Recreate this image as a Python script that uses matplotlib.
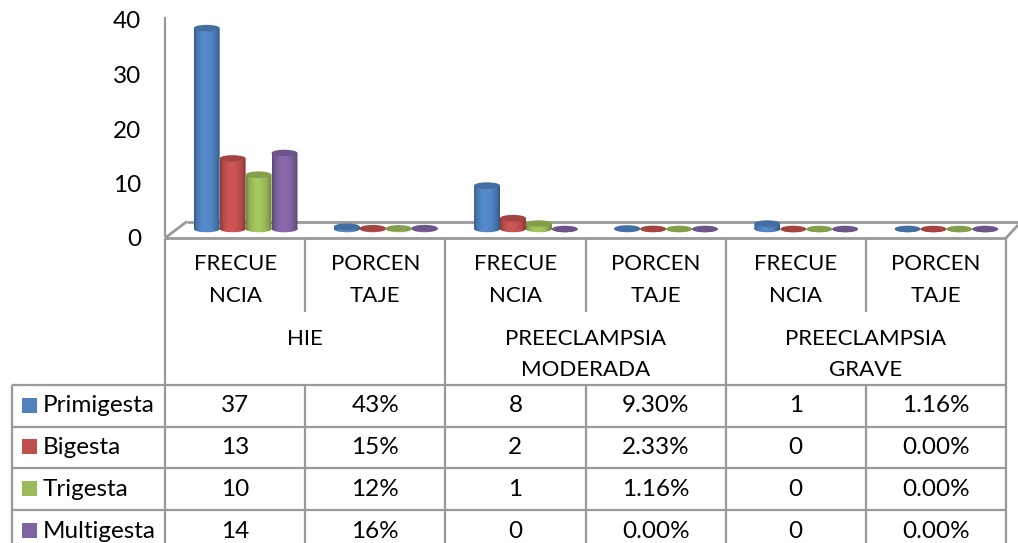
import numpy as np
import matplotlib
matplotlib.use('Agg')
import matplotlib.pyplot as plt
from matplotlib.patches import Ellipse, Rectangle
from matplotlib.path import Path
from matplotlib.colors import to_rgb
from matplotlib.transforms import Affine2D

plt.rcParams['font.family'] = ['Lato', 'DejaVu Sans']

# data
series = ['Primigesta', 'Bigesta', 'Trigesta', 'Multigesta']
primigesta = [37, 0.43, 8, 0.093, 1, 0.0116]
bigesta = [13, 0.15, 2, 0.0233, 0, 0.0]
trigesta = [10, 0.12, 1, 0.0116, 0, 0.0]
multigesta = [14, 0.16, 0, 0.0, 0, 0.0]
values = [primigesta, bigesta, trigesta, multigesta]

primigesta_txt = ['37', '43%', '8', '9.30%', '1', '1.16%']
bigesta_txt = ['13', '15%', '2', '2.33%', '0', '0.00%']
trigesta_txt = ['10', '12%', '1', '1.16%', '0', '0.00%']
multigesta_txt = ['14', '16%', '0', '0.00%', '0', '0.00%']
cell_text = [primigesta_txt, bigesta_txt, trigesta_txt, multigesta_txt]

categories = ['FRECUE\nNCIA', 'PORCEN\nTAJE'] * 3
groups = ['HIE', 'PREECLAMPSIA\nMODERADA', 'PREECLAMPSIA\nGRAVE']
y_ticks = [0, 10, 20, 30, 40]
colors = ['#4F81BD', '#C0504D', '#9BBB59', '#8064A2']

W, H = 1018, 543
GREY = '#999999'
FS = 17.5     # digits and lower case
FS_CAPS = 16  # capitals come out wide in this font


def px_axes(x0, y0, x1, y1):
    # axes box given in image pixels, y going down
    return fig.add_axes([x0 / W, 1 - y1 / H, (x1 - x0) / W, (y1 - y0) / H])


fig = plt.figure(figsize=(W / 100, H / 100), dpi=100)

# value axis
ax = px_axes(165, 18, 1006, 236)
ax.set_xlim(0, 6)
ax.set_ylim(0, 40)
ax.set_xticks([])
ax.set_yticks(y_ticks)
ax.tick_params(axis='y', length=0, pad=17, labelsize=FS)
for lab in ax.get_yticklabels():
    lab.set_transform(lab.get_transform() + Affine2D().translate(0, -2))
for s in ['top', 'right', 'bottom']:
    ax.spines[s].set_visible(False)
ax.spines['left'].set_color(GREY)
ax.spines['left'].set_linewidth(1.6)
ax.patch.set_alpha(0)

# table and floor lines, pixel coordinates
tb = fig.add_axes([0, 0, 1, 1])
tb.set_xlim(0, W)
tb.set_ylim(H, 0)
tb.axis('off')
tb.patch.set_alpha(0)
tb.set_zorder(1)


def ln(xs, ys, lw=1.6):
    tb.plot(xs, ys, color=GREY, lw=lw, solid_capstyle='butt', clip_on=False)


ln([165, 1006], [238, 238], 2)
ln([187, 1018], [221.5, 221.5], 2)
ln([165, 187], [238, 221.5], 2)
ln([1006, 1018], [238, 225], 2)

cols = [165 + 140.17 * i for i in range(7)]
rows = [385, 427, 468, 510]
for i, x in enumerate(cols):
    if i % 2 == 0:
        ln([x, x], [238, H])
    else:
        ln([x, x], [238, 312])
        ln([x, x], [385, H])
ln([12, 1006], [385, 385])
for y in rows[1:]:
    ln([12, 1006], [y, y])
ln([12, 12], [385, H])

for i, c in enumerate(categories):
    for j, t in enumerate(c.split('\n')):
        tb.text((cols[i] + cols[i + 1]) / 2, 264 + j * 32, t, ha='center', va='center', fontsize=FS_CAPS)
for i, g in enumerate(groups):
    for j, t in enumerate(g.split('\n')):
        tb.text((cols[2 * i] + cols[2 * i + 2]) / 2, 339 + j * 31, t, ha='center', va='center', fontsize=FS_CAPS)

row_mid = [405, 446, 488, 530]
for r, name in enumerate(series):
    tb.add_patch(Rectangle((22, row_mid[r] - 7.5), 15, 15, color=colors[r], lw=0))
    tb.text(43, row_mid[r] + 1, name, ha='left', va='center', fontsize=FS)
    for i, t in enumerate(cell_text[r]):
        tb.text((cols[i] + cols[i + 1]) / 2, row_mid[r] + 1, t, ha='center', va='center', fontsize=FS)

# cylinders, axes moved up a bit because they stand in the middle of the floor
bx = px_axes(165, 18 - 7, 1006, 229)
bx.axis('off')
bx.patch.set_alpha(0)
bx.set_zorder(2)

bar_w = 0.185
start = 0.205
ell_h = 1.2
shade = np.array([0.72, 0.92, 1.0, 1.06, 1.08, 1.06, 1.02, 0.96, 0.86, 0.68])
shade = np.interp(np.linspace(0, 9, 40), np.arange(10), shade)

for s, vals in enumerate(values):
    rgb = np.array(to_rgb(colors[s]))
    grad = np.clip(shade[None, :, None] * rgb[None, None, :], 0, 1)
    for c, v in enumerate(vals):
        x0 = c + start + s * bar_w
        xc = x0 + bar_w / 2
        body = Path.make_compound_path(
            Path.unit_rectangle().transformed(Affine2D().scale(bar_w, v).translate(x0, 0)),
            Path.unit_circle().transformed(Affine2D().scale(bar_w / 2, ell_h / 2).translate(xc, 0)))
        im = bx.imshow(grad, extent=[x0, x0 + bar_w, -ell_h, v], aspect='auto',
                       zorder=3 + c * 0.01 + s * 0.001, interpolation='bilinear')
        im.set_clip_box(fig.bbox)
        im.set_clip_path(body, bx.transData)
        bx.add_patch(Ellipse((xc, v), bar_w, ell_h, color=rgb * 0.85, lw=0, clip_on=False,
                             zorder=3.5 + c * 0.01 + s * 0.001))
bx.set_xlim(0, 6)
bx.set_ylim(0, 40.15)

fig.savefig('out.png', dpi=100)
